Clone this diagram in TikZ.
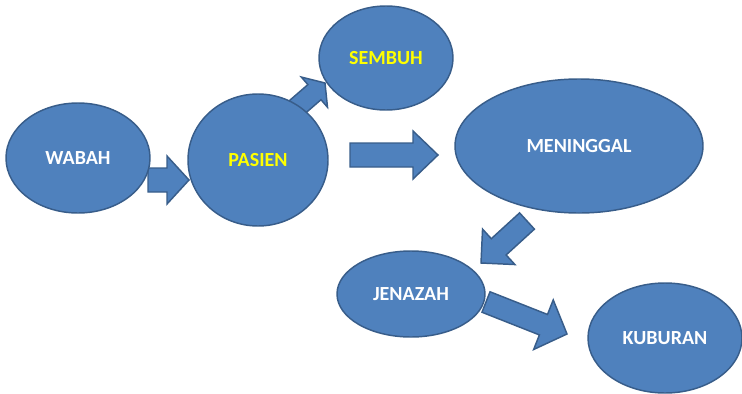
\documentclass[tikz,border=0pt]{standalone}
\usepackage{fontspec}
\setmainfont{Carlito}
\usetikzlibrary{shapes.geometric,calc}

\definecolor{shapefill}{RGB}{79,129,189}
\definecolor{shapeline}{RGB}{56,93,138}
\definecolor{labelyellow}{RGB}{255,255,0}

\tikzset{every picture/.style={line width=1.1pt}}
\tikzset{
	stage/.style={ellipse, draw=shapeline, fill=shapefill, inner sep=0pt, text=white,
		font=\bfseries\fontsize{15}{18}\selectfont},
	flowarrow/.style={draw=shapeline, fill=shapefill, line join=miter}}

% block arrow: tail, tip, half shaft, half head, head length
\newcommand{\blockarrow}[5]{%
	\draw[flowarrow] ($(#1)!#3!90:(#2)$)
		-- ($($(#2)!#5!(#1)$)!#3!-90:(#1)$)
		-- ($($(#2)!#5!(#1)$)!#4!-90:(#1)$)
		-- (#2)
		-- ($($(#2)!#5!(#1)$)!#4!90:(#1)$)
		-- ($($(#2)!#5!(#1)$)!#3!90:(#1)$)
		-- ($(#1)!#3!-90:(#2)$)
		-- cycle;}

\begin{document}
\begin{tikzpicture}[x=0.75pt,y=0.75pt,yscale=-1,xscale=1]
	\useasboundingbox (0,0) rectangle (742,393);

	%Arrow ends
	\coordinate (wabahout) at (148,180);
	\coordinate (pasienin) at (189,180);
	\coordinate (pasienup) at (295,109);
	\coordinate (sembuhin) at (325,83);
	\coordinate (pasienout) at (350,155);
	\coordinate (meninggalin) at (438,155);
	\coordinate (meninggalout) at (527,221);
	\coordinate (jenazahin) at (481,263);
	\coordinate (jenazahout) at (486,302);
	\coordinate (kuburanin) at (567,334);

	%Block arrows
	\blockarrow{wabahout}{pasienin}{9pt}{18pt}{16.5pt}
	\blockarrow{pasienup}{sembuhin}{7.5pt}{15pt}{10.5pt}
	\blockarrow{pasienout}{meninggalin}{9pt}{18pt}{18.75pt}
	\blockarrow{meninggalout}{jenazahin}{8.25pt}{18pt}{18pt}
	\blockarrow{jenazahout}{kuburanin}{8.25pt}{20pt}{19pt}

	%Ellipses
	\node[stage, minimum width=108pt, minimum height=82.5pt] (wabah) at (78,158) {WABAH};
	\node[stage, minimum width=105pt, minimum height=99pt, text=labelyellow] (pasien) at (258,160) {PASIEN};
	\node[stage, minimum width=100.5pt, minimum height=78pt, text=labelyellow] (sembuh) at (386,58) {SEMBUH};
	\node[stage, minimum width=186pt, minimum height=100.5pt] (meninggal) at (579,146) {MENINGGAL};
	\node[stage, minimum width=111pt, minimum height=64.5pt] (jenazah) at (411,294) {JENAZAH};
	\node[stage, minimum width=115.5pt, minimum height=82.5pt] (kuburan) at (665,338) {KUBURAN};

\end{tikzpicture}
\end{document}
